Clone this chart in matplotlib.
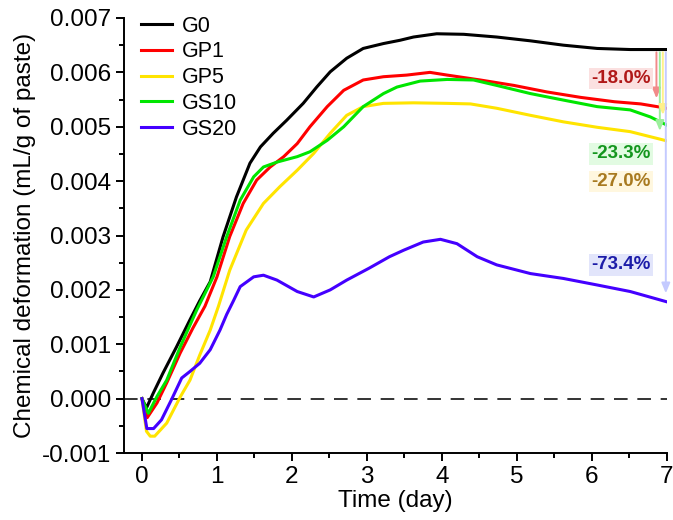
import matplotlib
matplotlib.use('Agg')
import matplotlib.pyplot as plt
import numpy as np

plt.rcParams['font.family'] = ['Liberation Sans', 'DejaVu Sans']

# data (time in days, deformation in mL/g of paste)
t_g0 = [0, 0.06, 0.15, 0.28, 0.46, 0.64, 0.77, 0.91, 1.08, 1.26, 1.44, 1.58, 1.75, 1.93, 2.15,
        2.33, 2.51, 2.73, 2.95, 3.22, 3.44, 3.62, 3.93, 4.29, 4.73, 5.18, 5.62, 6.07, 6.51, 7.0]
y_g0 = [0, -0.00017, 0.0001, 0.00047, 0.00095, 0.00145, 0.0018, 0.00215, 0.00297, 0.00371,
        0.00433, 0.00463, 0.00488, 0.00512, 0.00543, 0.00573, 0.00601, 0.00626, 0.00644, 0.00653,
        0.00659, 0.00665, 0.00671, 0.0067, 0.00665, 0.00658, 0.0065, 0.00644, 0.00642, 0.00642]

t_gp1 = [0, 0.07, 0.2, 0.33, 0.51, 0.68, 0.84, 1.0, 1.17, 1.35, 1.53, 1.71, 1.89, 2.07, 2.24,
         2.47, 2.69, 2.95, 3.22, 3.53, 3.84, 4.07, 4.51, 4.96, 5.4, 5.85, 6.3, 6.65, 7.0]
y_gp1 = [0, -0.00035, -0.00008, 0.00029, 0.00084, 0.0013, 0.0017, 0.00224, 0.00298, 0.00359,
         0.00402, 0.00426, 0.00445, 0.00469, 0.005, 0.00537, 0.00567, 0.00586, 0.00592, 0.00595,
         0.006, 0.00595, 0.00586, 0.00576, 0.00564, 0.00554, 0.00546, 0.00542, 0.00534]

t_gp5 = [0, 0.06, 0.11, 0.17, 0.33, 0.51, 0.64, 0.77, 0.91, 1.02, 1.17, 1.39, 1.62, 1.84, 2.07,
         2.29, 2.51, 2.73, 2.95, 3.22, 3.62, 4.07, 4.38, 4.73, 5.18, 5.62, 6.07, 6.51, 7.0]
y_gp5 = [0, -0.0006, -0.00069, -0.00069, -0.00045, 0.00003, 0.00034, 0.0008, 0.00126, 0.0017,
         0.00236, 0.0031, 0.00359, 0.0039, 0.0042, 0.00451, 0.00488, 0.00521, 0.00537, 0.00543,
         0.00544, 0.00543, 0.00542, 0.00534, 0.00521, 0.00509, 0.00499, 0.00491, 0.00474]

t_gs10 = [0, 0.085, 0.2, 0.33, 0.51, 0.73, 0.95, 1.13, 1.31, 1.49, 1.62, 1.8, 2.07, 2.24, 2.47,
          2.69, 2.95, 3.22, 3.4, 3.71, 4.07, 4.42, 4.73, 5.18, 5.62, 6.07, 6.51, 6.78, 7.0]
y_gs10 = [0, -0.00027, 0.00004, 0.00034, 0.00095, 0.00163, 0.00224, 0.00298, 0.00365, 0.00408,
          0.00426, 0.00435, 0.00445, 0.00454, 0.00475, 0.005, 0.00537, 0.00561, 0.00573, 0.00584,
          0.00587, 0.00586, 0.00576, 0.00561, 0.00549, 0.00537, 0.00531, 0.00518, 0.00503]

t_gs20 = [0, 0.065, 0.155, 0.26, 0.4, 0.53, 0.64, 0.77, 0.91, 1.04, 1.13, 1.22, 1.31, 1.49, 1.62,
          1.8, 2.07, 2.29, 2.51, 2.73, 3.03, 3.3, 3.49, 3.75, 3.98, 4.2, 4.47, 4.73, 5.18, 5.62,
          6.07, 6.51, 7.0]
y_gs20 = [0, -0.00055, -0.00055, -0.00039, 0.0, 0.00038, 0.0005, 0.00065, 0.0009, 0.00126,
          0.00155, 0.0018, 0.00206, 0.00224, 0.00227, 0.00218, 0.00197, 0.00187, 0.002, 0.00218,
          0.0024, 0.00261, 0.00273, 0.00288, 0.00293, 0.00285, 0.00261, 0.00246, 0.0023, 0.00221,
          0.00209, 0.00197, 0.00178]

names = ['G0', 'GP1', 'GP5', 'GS10', 'GS20']
colors = ['#000000', '#ff0000', '#ffe400', '#00e600', '#4400ff']

# reduction labels relative to G0 at day 7
red_labels = ['-18.0%', '-23.3%', '-27.0%', '-73.4%']
red_text_y = [0.00589, 0.0045, 0.00399, 0.00246]
red_txt_col = ['#b01818', '#14961e', '#a87a20', '#1c1ca8']
red_box_col = ['#fbe0e0', '#e2fbe2', '#fff7df', '#e2e5fb']
arrow_col = ['#f28a8a', '#9cef9c', '#fff08a', '#c4caff']
arrow_x = [6.86, 6.905, 6.945, 6.985]

fig = plt.figure(figsize=(6.73, 5.2), dpi=100)
ax = fig.add_axes([0.1842, 0.1288, 0.8068, 0.8366])

ax.axhline(0, color='#333333', lw=1.4, ls=(0, (7, 5)), zorder=1)

series = [(t_g0, y_g0), (t_gp1, y_gp1), (t_gp5, y_gp5), (t_gs10, y_gs10), (t_gs20, y_gs20)]
for (t, y), name, c in zip(series, names, colors):
    ax.plot(t, y, color=c, lw=2.2, label=name, zorder=3)

# arrows from G0 down to each series
g0_end = y_g0[-1]
for (t, y), xa, ca in zip(series[1:], arrow_x, arrow_col):
    yend = np.interp(xa, t, y) + 0.0001
    ax.annotate('', xy=(xa, yend), xytext=(xa, g0_end),
                arrowprops=dict(arrowstyle='-|>,head_length=0.6,head_width=0.25', color=ca, lw=1.4),
                zorder=4)

for lab, ty, tc, bc in zip(red_labels, red_text_y, red_txt_col, red_box_col):
    ax.text(6.39, ty, lab, color=tc, fontsize=13.5, fontweight='bold', ha='center', va='center',
            bbox=dict(boxstyle='square,pad=0.12', fc=bc, ec='none'), zorder=5)

ax.set_xlim(-0.24, 7.0)
ax.set_ylim(-0.001, 0.007)
ax.set_xticks(np.arange(0, 8, 1))
ax.set_xticks(np.arange(0, 7.01, 0.5), minor=True)
ax.set_yticks(np.arange(-0.001, 0.00701, 0.001))
ax.set_yticks(np.arange(-0.001, 0.00701, 0.0005), minor=True)
ax.set_yticklabels(['%.3f' % v for v in np.arange(-0.001, 0.00701, 0.001)])

for s in ['top', 'right']:
    ax.spines[s].set_visible(False)
for s in ['left', 'bottom']:
    ax.spines[s].set_linewidth(1.4)
ax.tick_params(which='major', direction='out', length=6, width=1.4, labelsize=17.5)
ax.tick_params(which='minor', direction='out', length=3.5, width=1.4)

ax.set_xlabel('Time (day)', fontsize=17.5, labelpad=1)
ax.set_ylabel('Chemical deformation (mL/g of paste)', fontsize=17.5, labelpad=4)

leg = ax.legend(loc='upper left', frameon=False, fontsize=15.5, handlelength=1.45,
                labelspacing=0.22, borderaxespad=0.0, bbox_to_anchor=(0.016, 1.025),
                handletextpad=0.45)

fig.savefig('out.png', dpi=100)
